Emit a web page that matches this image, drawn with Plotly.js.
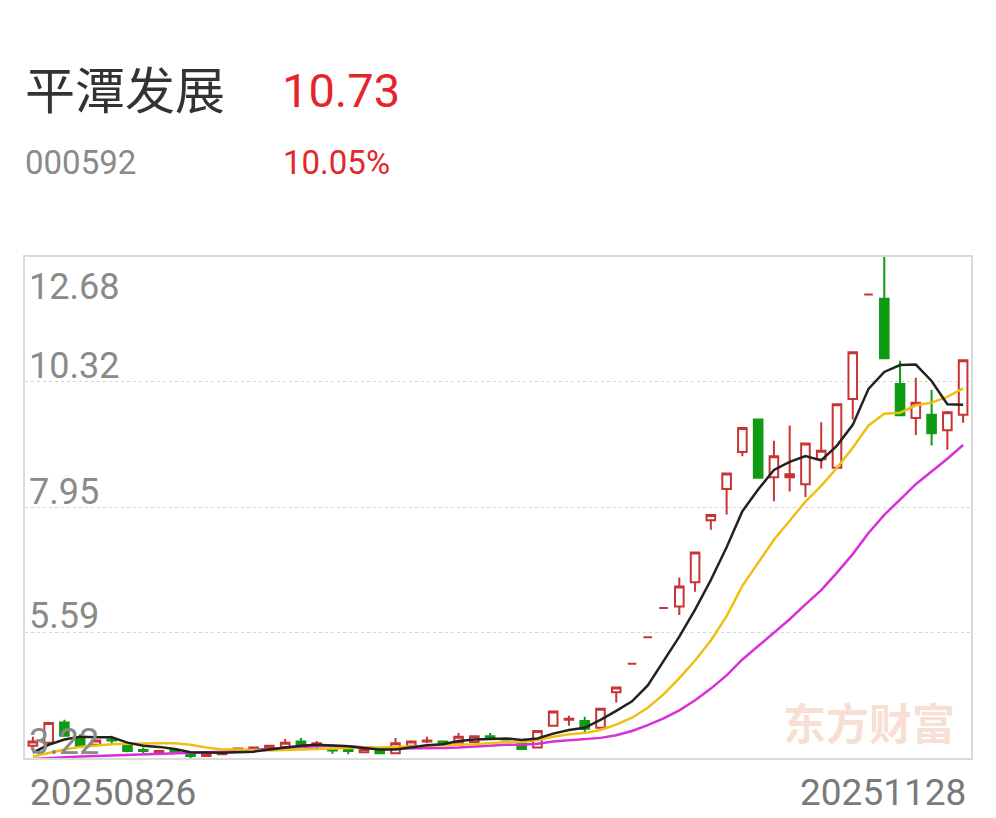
<!DOCTYPE html>
<html><head><meta charset="utf-8">
<script src="https://cdn.plot.ly/plotly-3.0.1.min.js"></script>
<style>html,body{margin:0;padding:0;background:#fff;}#chart{width:996px;height:818px;}</style>
</head><body><div id="chart"></div>
<script>
const stockName = "平潭发展";
const stockCode = "000592";
const lastPrice = "10.73";
const changePct = "10.05%";
const startDate = "20250826";
const endDate = "20251128";
const yTicks = [3.22, 5.59, 7.95, 10.32, 12.68];
const yTickText = ["3.22", "5.59", "7.95", "10.32", "12.68"];

const open = [3.45,3.51,3.89,3.61,3.47,3.57,3.48,3.37,3.33,3.37,
  3.31,3.26,3.29,3.38,3.41,3.42,3.43,3.53,3.49,3.37,
  3.37,3.33,3.36,3.31,3.45,3.53,3.53,3.51,3.52,3.63,
  3.58,3.50,3.42,3.83,3.94,3.92,3.79,4.46,5.00,5.50,
  6.05,6.08,6.54,7.71,8.30,9.00,9.61,8.52,8.52,8.39,
  8.86,8.70,10.00,11.97,11.89,10.28,9.64,9.70,9.41,9.70];
const high = [3.62,3.89,3.94,3.67,3.57,3.64,3.52,3.42,3.37,3.39,
  3.32,3.31,3.34,3.41,3.43,3.46,3.58,3.60,3.54,3.38,
  3.39,3.40,3.37,3.60,3.53,3.62,3.54,3.69,3.64,3.69,
  3.59,3.51,3.73,4.10,4.02,4.00,4.15,4.55,5.00,5.50,
  6.05,6.63,7.10,7.81,8.59,9.45,9.63,9.21,9.50,9.16,
  9.56,9.90,10.88,11.97,12.68,10.72,10.40,10.17,9.77,10.73];
const low = [3.38,3.48,3.62,3.43,3.45,3.48,3.33,3.31,3.31,3.32,
  3.22,3.24,3.28,3.37,3.40,3.41,3.42,3.46,3.40,3.30,
  3.29,3.32,3.30,3.30,3.39,3.50,3.50,3.50,3.51,3.56,
  3.56,3.37,3.40,3.83,3.83,3.70,3.78,4.27,5.00,5.50,
  6.05,5.92,6.36,7.53,7.82,8.92,8.51,8.07,8.25,8.15,
  8.68,8.70,9.61,11.97,10.77,9.69,9.32,9.12,9.04,9.55];
const close = [3.53,3.88,3.64,3.45,3.55,3.55,3.35,3.35,3.35,3.34,
  3.26,3.31,3.33,3.40,3.42,3.45,3.51,3.47,3.50,3.36,
  3.35,3.39,3.31,3.50,3.53,3.55,3.51,3.62,3.63,3.61,
  3.57,3.39,3.73,4.10,3.96,3.77,4.15,4.55,5.00,5.50,
  6.05,6.46,7.10,7.81,8.59,9.45,8.51,8.92,8.58,9.16,
  9.02,9.90,10.88,11.97,10.77,9.69,9.93,9.35,9.75,10.73];

const ma5 = [3.32,3.47,3.57,3.62,3.61,3.61,3.51,3.45,3.43,3.39,
  3.33,3.32,3.32,3.33,3.34,3.38,3.42,3.45,3.47,3.46,
  3.44,3.41,3.38,3.38,3.42,3.46,3.48,3.54,3.57,3.58,
  3.59,3.56,3.59,3.68,3.75,3.79,3.94,4.11,4.29,4.59,
  5.05,5.51,6.02,6.58,7.20,7.88,8.29,8.66,8.81,8.92,
  8.84,9.12,9.51,10.19,10.51,10.64,10.65,10.34,9.90,9.89];
const ma10 = [3.25,3.32,3.38,3.43,3.46,3.48,3.49,3.50,3.50,3.50,
  3.47,3.42,3.38,3.38,3.37,3.36,3.37,3.38,3.40,3.40,
  3.41,3.42,3.42,3.43,3.44,3.45,3.45,3.46,3.48,3.50,
  3.52,3.52,3.56,3.62,3.67,3.69,3.75,3.85,3.98,4.17,
  4.42,4.73,5.06,5.44,5.90,6.47,6.90,7.34,7.70,8.06,
  8.36,8.70,9.08,9.50,9.72,9.74,9.88,9.93,10.04,10.20];
const ma20 = [3.20,3.22,3.24,3.25,3.26,3.27,3.28,3.29,3.30,3.31,
  3.31,3.32,3.34,3.36,3.38,3.40,3.42,3.43,3.44,3.45,
  3.44,3.42,3.40,3.40,3.40,3.40,3.41,3.42,3.44,3.45,
  3.47,3.47,3.49,3.53,3.55,3.57,3.60,3.65,3.73,3.84,
  3.97,4.12,4.31,4.53,4.78,5.08,5.33,5.59,5.84,6.12,
  6.39,6.72,7.07,7.47,7.81,8.10,8.39,8.63,8.87,9.13];

const idx = close.map((_, i) => i);

const RED = '#c83434';
const GREEN = '#0f9a14';

const traces = [
  {
    type: 'candlestick', x: idx, open: open, high: high, low: low, close: close,
    increasing: {line: {color: RED, width: 2}, fillcolor: '#ffffff'},
    decreasing: {line: {color: GREEN, width: 2}, fillcolor: GREEN},
    whiskerwidth: 0, hoverinfo: 'skip', showlegend: false
  },
  {type: 'scatter', mode: 'lines', x: idx, y: ma20, line: {color: '#d92fd9', width: 2.5}, hoverinfo: 'skip'},
  {type: 'scatter', mode: 'lines', x: idx, y: ma10, line: {color: '#efbf12', width: 2.5}, hoverinfo: 'skip'},
  {type: 'scatter', mode: 'lines', x: idx, y: ma5, line: {color: '#222222', width: 2.5}, hoverinfo: 'skip'}
];

const L = 25, R = 25, T = 257, B = 60, W = 996, H = 818;
const pw = W - L - R, ph = H - T - B;
const px = v => (v - L) / pw;
const py = v => (H - B - v) / ph;

const annotations = [];
yTicks.forEach((v, i) => {
  const top = i === yTicks.length - 1;
  annotations.push({
    xref: 'paper', x: 0, xanchor: 'left', xshift: 2,
    yref: 'y', y: v, yanchor: top ? 'top' : 'bottom', yshift: -7,
    text: yTickText[i], showarrow: false,
    font: {family: 'Roboto', size: 36, color: '#8a8a8a'}
  });
});
annotations.push(
  {xref: 'paper', yref: 'paper', x: px(25), y: py(87), xanchor: 'left', yanchor: 'middle', xshift: -2,
   text: stockName, showarrow: false, font: {family: 'Noto Sans CJK SC', size: 50, color: '#333333'}},
  {xref: 'paper', yref: 'paper', x: px(281), y: py(90), xanchor: 'left', yanchor: 'middle', xshift: -1,
   text: lastPrice, showarrow: false, font: {family: 'Roboto', size: 47, color: '#e3262b'}},
  {xref: 'paper', yref: 'paper', x: px(24), y: py(162), xanchor: 'left', yanchor: 'middle', xshift: -1,
   text: stockCode, showarrow: false, font: {family: 'Roboto', size: 33, color: '#8a8a8a'}},
  {xref: 'paper', yref: 'paper', x: px(282), y: py(162), xanchor: 'left', yanchor: 'middle', xshift: -1,
   text: changePct, showarrow: false, font: {family: 'Roboto', size: 33, color: '#e3262b'}},
  {xref: 'paper', yref: 'paper', x: px(29), y: py(792), xanchor: 'left', yanchor: 'middle', xshift: -1,
   text: startDate, showarrow: false, font: {family: 'Roboto', size: 37, color: '#7a7a7a'}},
  {xref: 'paper', yref: 'paper', x: px(967), y: py(792), xanchor: 'right', yanchor: 'middle', xshift: 1,
   text: endDate, showarrow: false, font: {family: 'Roboto', size: 37, color: '#7a7a7a'}},
  {xref: 'paper', yref: 'paper', x: px(869), y: py(721), xanchor: 'center', yanchor: 'middle',
   text: '东方财富', showarrow: false, font: {family: 'Noto Sans CJK SC', size: 43, color: '#f8dfd5', weight: 'bold'}}
);

const layout = {
  width: W, height: H,
  margin: {l: L, r: R, t: T, b: B, pad: 0},
  paper_bgcolor: '#ffffff', plot_bgcolor: '#ffffff',
  showlegend: false,
  boxgap: 0.22,
  xaxis: {range: [-0.5, 59.5], showgrid: false, zeroline: false, showticklabels: false, ticks: '',
          showline: true, mirror: true, linecolor: '#dadada', linewidth: 2,
          rangeslider: {visible: false}, fixedrange: true},
  yaxis: {range: [3.22, 12.68], tickvals: yTicks, showticklabels: false, ticks: '',
          showgrid: true, gridcolor: '#d6d6d6', griddash: 'dot', gridwidth: 1, zeroline: false,
          showline: true, mirror: true, linecolor: '#dadada', linewidth: 2, fixedrange: true},
  annotations: annotations
};

Plotly.newPlot('chart', traces, layout, {staticPlot: true, displayModeBar: false});
</script>
</body></html>
